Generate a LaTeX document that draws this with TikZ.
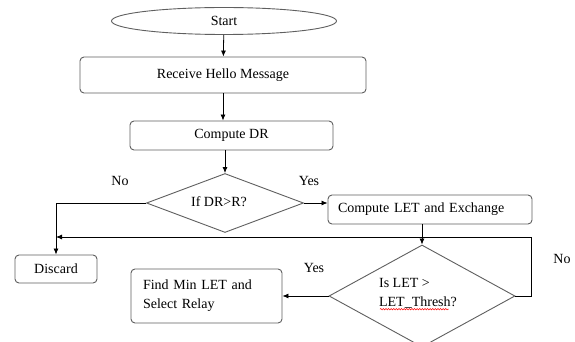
\documentclass[tikz,border=0pt]{standalone}
\usepackage{fontspec}
\setmainfont{Liberation Serif}
\usetikzlibrary{shapes.geometric,arrows.meta,decorations.pathmorphing}
\definecolor{boxgray}{RGB}{95,95,95}
\begin{document}
\begin{tikzpicture}[x=1pt,y=-1pt,
  font=\fontsize{14}{19}\selectfont,
  box/.style={draw=boxgray, rounded corners=4pt, line width=0.9pt, inner sep=0pt},
  term/.style={draw=boxgray, ellipse, line width=0.9pt, inner sep=0pt},
  decision/.style={draw=boxgray, diamond, line width=0.9pt, inner sep=0pt},
  arr/.style={draw=black, line width=0.8pt, -{Latex[length=6pt,width=5pt]}},
  lbl/.style={inner sep=0pt}]
\useasboundingbox (0,0) rectangle (575,342);
\fill[white] (0,0) rectangle (575,342);
\clip (0,0) rectangle (575,342);

\node[term, minimum width=225pt, minimum height=27pt] (start) at (224,21) {Start};
\node[box, minimum width=286pt, minimum height=36pt] (rhm) at (223,75) {Receive Hello Message};
\node[box, minimum width=203pt, minimum height=29pt] (cdr) at (231.5,135.5) {Compute DR};
\node[decision, minimum width=157pt, minimum height=59pt] (d1) at (225,203) {};
\node[lbl] (d1t) at (219,202) {If DR>R?};
\node[box, inner xsep=10pt, text width=184pt, align=left, minimum height=29pt] (cle) at (430,209.5) {Compute LET and Exchange};
\node[box, minimum width=82pt, minimum height=28pt] (disc) at (56,269) {Discard};
\node[decision, minimum width=186pt, minimum height=102pt] (d2) at (422,296) {};
\node[lbl, align=left] (d2t) at (418,293) {Is LET >\\LET\_Thresh?};
\node[box, inner xsep=12pt, text width=127pt, align=left, minimum height=54pt] (fml) at (206.5,296) {Find Min LET and\\Select Relay};

\draw[red, line width=0.5pt, decorate, decoration={snake, amplitude=0.7pt, segment length=2.6pt}] (d2t.south west) ++(1,1) -- ++(69,0);

\node[lbl] (no1) at (120,181) {No};
\node[lbl] (yes1) at (309,181) {Yes};
\node[lbl] (yes2) at (314,268) {Yes};
\node[lbl] (no2) at (562,259) {No};

\draw[arr] (start) -- (rhm);
\draw[arr] (rhm.south) -- (rhm.south |- cdr.north);
\draw[arr] (cdr.south -| d1.north) -- (d1.north);
\draw[arr] (d1.east) -- (d1.east -| cle.west);
\draw[arr] (d1.west) -| (disc.north);
\draw[arr] (d2.north |- cle.south) -- (d2.north);
\coordinate (loopr) at (531,237);
\draw[arr] (d2.east) -| (loopr) -- (loopr -| disc.north);
\draw[arr] (d2.west) -- (d2.west -| fml.east);
\end{tikzpicture}
\end{document}
